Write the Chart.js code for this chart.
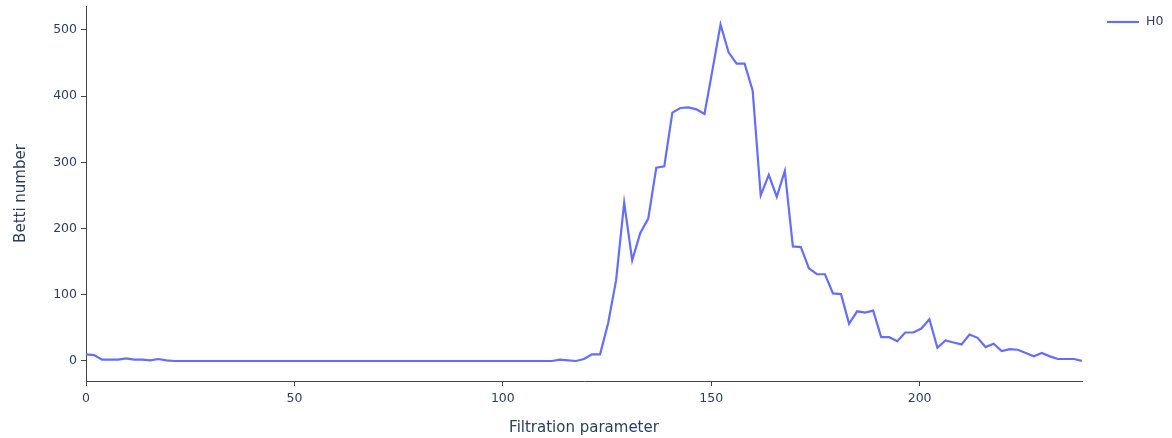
<!DOCTYPE html>
<html>
<head>
<meta charset="utf-8">
<script src="https://cdn.jsdelivr.net/npm/chart.js@4/dist/chart.umd.min.js"></script>
<style>
  html, body { margin: 0; padding: 0; background: #fff; }
  #wrap { width: 1172px; height: 438px; }
</style>
</head>
<body>
<div id="wrap"><canvas id="betti"></canvas></div>
<script>
// filtration parameter (x) and H0 Betti number (y)
const filtration = [
  0, 1.93, 3.85, 5.78, 7.71, 9.64, 11.56, 13.49, 15.42, 17.34,
  19.27, 21.20, 23.12, 25.05, 26.98, 28.91, 30.83, 32.76, 34.69, 36.61,
  38.54, 40.47, 42.39, 44.32, 46.25, 48.18, 50.10, 52.03, 53.96, 55.88,
  57.81, 59.74, 61.66, 63.59, 65.52, 67.45, 69.37, 71.30, 73.23, 75.15,
  77.08, 79.01, 80.93, 82.86, 84.79, 86.72, 88.64, 90.57, 92.50, 94.42,
  96.35, 98.28, 100.20, 102.13, 104.06, 105.99, 107.91, 109.84, 111.77, 113.69,
  115.62, 117.55, 119.47, 121.40, 123.33, 125.26, 127.18, 129.11, 131.04, 132.96,
  134.89, 136.82, 138.74, 140.67, 142.60, 144.53, 146.45, 148.38, 150.31, 152.23,
  154.16, 156.09, 158.01, 159.94, 161.87, 163.80, 165.72, 167.65, 169.58, 171.50,
  173.43, 175.36, 177.28, 179.21, 181.14, 183.07, 184.99, 186.92, 188.85, 190.77,
  192.70, 194.63, 196.55, 198.48, 200.41, 202.34, 204.26, 206.19, 208.12, 210.04,
  211.97, 213.90, 215.82, 217.75, 219.68, 221.61, 223.53, 225.46, 227.39, 229.31,
  231.24, 233.17, 235.09, 237.02, 238.95
];
const h0 = [
  10, 9, 2, 2, 2, 4, 2, 2, 1, 3,
  1, 0, 0, 0, 0, 0, 0, 0, 0, 0,
  0, 0, 0, 0, 0, 0, 0, 0, 0, 0,
  0, 0, 0, 0, 0, 0, 0, 0, 0, 0,
  0, 0, 0, 0, 0, 0, 0, 0, 0, 0,
  0, 0, 0, 0, 0, 0, 0, 0, 0, 2,
  1, 0, 3, 10, 10, 57, 122, 239, 152, 193,
  215, 292, 294, 375, 382, 383, 380, 373, 440, 508,
  466, 449, 449, 408, 250, 281, 248, 287, 173, 172,
  140, 131, 131, 102, 101, 56, 75, 73, 76, 36,
  36, 30, 43, 43, 49, 63, 20, 31, 28, 25,
  40, 35, 21, 26, 15, 18, 17, 12, 7, 12,
  7, 3, 3, 3, 0
];
const xTicks = [0, 50, 100, 150, 200];
const yTicks = [0, 100, 200, 300, 400, 500];

const textColor = '#2a3f5f';
const axisColor = '#444';
const lineColor = '#636efa';
const baseFont = { family: 'DejaVu Sans', size: 12.5 };

// legend drawn top right, outside the plot, like the original
const sideLegend = {
  id: 'sideLegend',
  afterDraw(chart) {
    const ctx = chart.ctx;
    const ds = chart.data.datasets[0];
    ctx.save();
    ctx.strokeStyle = ds.borderColor;
    ctx.lineWidth = 2.2;
    ctx.beginPath();
    ctx.moveTo(1107, 22);
    ctx.lineTo(1139, 22);
    ctx.stroke();
    ctx.fillStyle = textColor;
    ctx.font = '12.5px "DejaVu Sans"';
    ctx.textBaseline = 'middle';
    ctx.fillText(ds.label, 1146, 22);
    ctx.restore();
  }
};

new Chart(document.getElementById('betti'), {
  type: 'line',
  data: {
    datasets: [{
      label: 'H0',
      data: filtration.map((x, i) => ({ x, y: h0[i] })),
      borderColor: lineColor,
      borderWidth: 2.2,
      pointRadius: 0,
      tension: 0,
      fill: false
    }]
  },
  options: {
    responsive: true,
    maintainAspectRatio: false,
    animation: false,
    layout: { padding: { top: 6, right: 90, left: 0, bottom: 0 } },
    plugins: { legend: { display: false }, tooltip: { enabled: false } },
    scales: {
      x: {
        type: 'linear',
        min: 0,
        max: filtration[filtration.length - 1],
        border: { display: true, color: axisColor, width: 1 },
        grid: { drawOnChartArea: false, drawTicks: true, tickLength: 5, color: axisColor },
        ticks: { color: textColor, font: baseFont, padding: 5, maxRotation: 0 },
        afterBuildTicks: s => { s.ticks = xTicks.map(v => ({ value: v })); },
        afterFit: s => { s.height = 57; s.paddingLeft = 0; s.paddingRight = 0; },
        title: { display: true, text: 'Filtration parameter', color: textColor,
                 font: { family: 'DejaVu Sans', size: 15 }, padding: { top: 0, bottom: 1 } }
      },
      y: {
        type: 'linear',
        min: -30.2,
        max: 536,
        border: { display: true, color: axisColor, width: 1 },
        grid: { drawOnChartArea: false, drawTicks: true, tickLength: 5, color: axisColor },
        ticks: { color: textColor, font: baseFont, padding: 4 },
        afterBuildTicks: s => { s.ticks = yTicks.map(v => ({ value: v })); },
        afterFit: s => { s.width = 86; s.paddingTop = 0; s.paddingBottom = 0; },
        title: { display: true, text: 'Betti number', color: textColor,
                 font: { family: 'DejaVu Sans', size: 15 }, padding: { top: 12, bottom: 0 } }
      }
    }
  },
  plugins: [sideLegend]
});
</script>
</body>
</html>
